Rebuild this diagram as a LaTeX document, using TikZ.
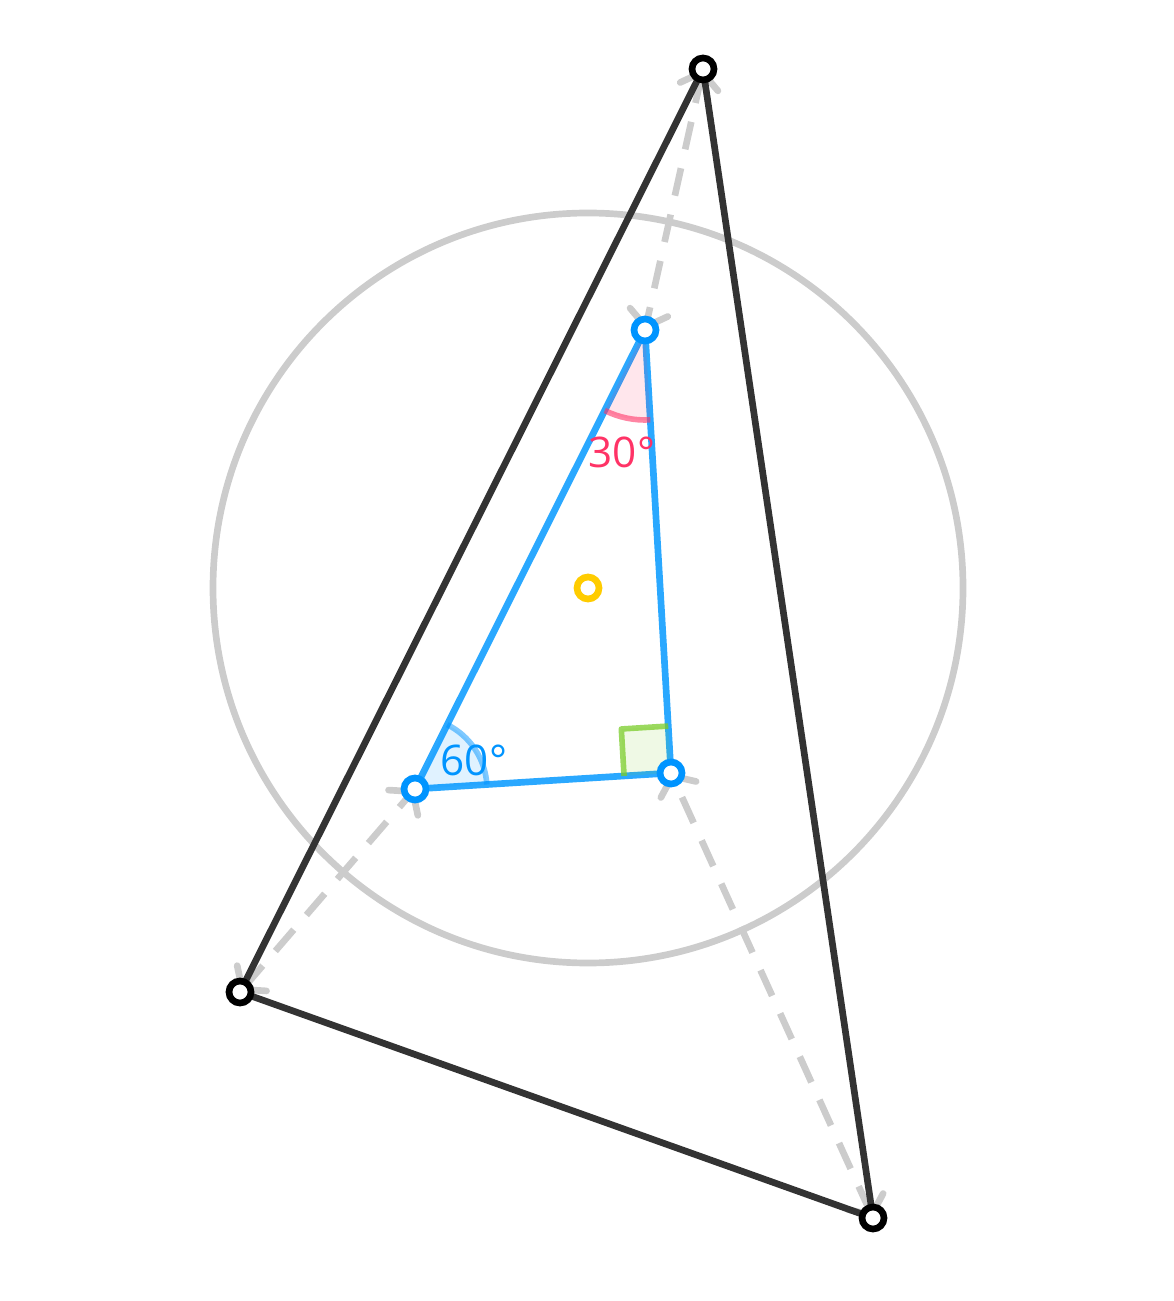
\documentclass[tikz,border=0pt]{standalone}
\usepackage{fontspec}
\setmainfont{Open Sans}
\usepackage{xcolor}
\usetikzlibrary{arrows.meta,calc}

\definecolor{edgegray}{HTML}{333333}
\definecolor{guidegray}{HTML}{CCCCCC}
\definecolor{triblue}{HTML}{2AA8FF}
\definecolor{ptblue}{HTML}{0094FF}
\definecolor{angpink}{HTML}{FF3366}
\definecolor{anggreen}{HTML}{7ACC29}
\definecolor{ctryellow}{HTML}{FFCC00}

\tikzset{tick/.tip={Straight Barb[length=4.2pt,width=11pt,round]}}

\begin{document}
\begin{tikzpicture}[
  x=0.01cm, y=-0.01cm,
  outer/.style={draw=edgegray, line width=1.9pt, line join=round},
  guide/.style={draw=guidegray, line width=1.9pt},
  cevian/.style={guide, dash pattern=on 8pt off 5.5pt, tick-tick},
  inner/.style={draw=triblue, line width=1.9pt, line join=round},
  ring/.style={circle, fill=white, line width=1.9pt, inner sep=0pt, minimum size=0.22cm},
  outerpt/.style={ring, draw=black},
  innerpt/.style={ring, draw=ptblue},
  centerpt/.style={ring, draw=ctryellow},
  anglabel/.style={font=\fontsize{12}{14}\selectfont, inner sep=1pt}
]
  \useasboundingbox (0,0) rectangle (1174,1301);
  % outer triangle and the blue right triangle inside it
  \coordinate (P) at (703,69);
  \coordinate (Q) at (240,992);
  \coordinate (R) at (873,1218);
  \coordinate (A) at (645,330);
  \coordinate (B) at (415,789);
  \coordinate (C) at (671,773);
  \coordinate (O) at (588,588);

  \draw[guide] (O) circle[radius=375];
  \foreach \p/\q in {P/A,Q/B,R/C}
    \draw[cevian] (\p) -- (\q);
  \draw[outer] (P) -- (Q) -- (R) -- cycle;
  \draw[inner] (A) -- (B) -- (C) -- cycle;

  % angle marks
  \fill[angpink, fill opacity=0.12] (A) -- ++(86.6:90) arc[start angle=86.6, end angle=116.6, radius=90] -- cycle;
  \draw[angpink, draw opacity=0.6, line width=1.6pt] (A) ++(86.6:90) arc[start angle=86.6, end angle=116.6, radius=90];
  \fill[ptblue, fill opacity=0.12] (B) -- ++(296.6:72) arc[start angle=296.6, end angle=356.4, radius=72] -- cycle;
  \draw[ptblue, draw opacity=0.5, line width=1.6pt] (B) ++(296.6:72) arc[start angle=296.6, end angle=356.4, radius=72];
  \coordinate (cb) at ($(C)!0.47cm!(B)$);
  \coordinate (ca) at ($(C)!0.47cm!(A)$);
  \coordinate (cc) at ($(cb)+(ca)-(C)$);
  \fill[anggreen, fill opacity=0.12] (C) -- (cb) -- (cc) -- (ca) -- cycle;
  \draw[anggreen, draw opacity=0.75, line width=1.6pt, line join=round] (cb) -- (cc) -- (ca);

  \node[anglabel, text=angpink] (lbl30) at (622,452) {30°};
  \node[anglabel, text=ptblue] (lbl60) at (474,760) {60°};

  \foreach \v in {P,Q,R}
    \node[outerpt] (\v-pt) at (\v) {};
  \foreach \v in {A,B,C}
    \node[innerpt] (\v-pt) at (\v) {};
  \node[centerpt] (O-pt) at (O) {};
\end{tikzpicture}
\end{document}
